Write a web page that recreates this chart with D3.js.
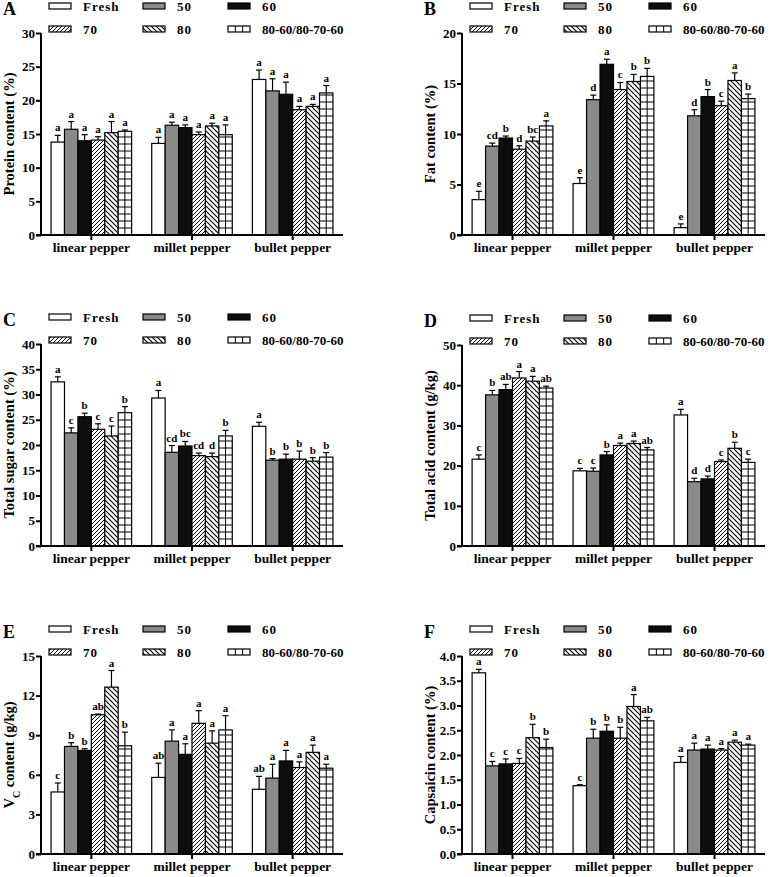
<!DOCTYPE html>
<html><head><meta charset="utf-8">
<script src="https://cdn.jsdelivr.net/npm/d3@7"></script>
<style>body{margin:0;background:#fff}svg{display:block}svg text{font-family:"Liberation Serif","DejaVu Serif",serif;font-weight:bold}</style>
</head><body>
<svg id="chart" width="770" height="877"></svg>
<script>
const categories = ["linear pepper","millet pepper","bullet pepper"];
const seriesNames = ["Fresh","50","60","70","80","80-60/80-70-60"];

const proteinMean = [[13.8,15.7,14.0,14.1,15.2,15.4],[13.6,16.3,15.95,14.9,16.2,14.9],[23.1,21.4,20.9,18.6,19.1,21.1]];
const proteinErr  = [[1.0,1.15,0.9,0.5,1.65,0.2],[0.9,0.45,0.4,0.4,0.4,1.45],[1.4,1.8,1.8,0.5,0.3,1.1]];
const proteinSig  = [["a","a","a","a","a","a"],["a","a","a","a","a","a"],["a","a","a","a","a","a"]];

const fatMean = [[3.5,8.8,9.6,8.5,9.3,10.8],[5.1,13.4,16.9,14.4,15.2,15.7],[0.73,11.8,13.7,12.8,15.3,13.5]];
const fatErr  = [[0.83,0.3,0.2,0.33,0.4,0.5],[0.57,0.45,0.5,0.7,0.7,0.8],[0.37,0.6,0.7,0.45,0.75,0.45]];
const fatSig  = [["e","cd","b","d","bc","a"],["e","d","a","c","b","b"],["e","d","b","c","a","b"]];

const sugarMean = [[32.5,22.4,25.6,23.1,21.8,26.4],[29.3,18.55,19.8,17.9,17.7,21.8],[23.7,17.0,17.2,17.2,16.8,17.6]];
const sugarErr  = [[1.0,1.0,0.7,1.1,1.95,1.2],[1.5,1.35,0.9,0.5,0.7,1.1],[0.8,0.3,1.0,1.6,0.7,0.9]];
const sugarSig  = [["a","c","b","c","c","b"],["a","cd","bc","cd","d","b"],["a","b","b","b","b","b"]];

const acidMean = [[21.6,37.6,38.9,41.8,41.0,39.3],[18.7,18.6,22.65,25.0,25.5,23.9],[32.6,16.0,16.7,21.0,24.3,20.8]];
const acidErr  = [[1.05,1.1,1.3,1.6,1.2,0.45],[0.6,0.8,0.85,0.6,0.6,0.6],[1.4,0.85,0.7,0.4,1.5,0.8]];
const acidSig  = [["c","b","ab","a","a","ab"],["c","c","b","a","a","ab"],["a","d","d","c","b","c"]];

const vcMean = [[4.7,8.15,7.85,10.55,12.64,8.2],[5.8,8.55,7.55,9.9,8.4,9.4],[4.9,5.75,7.05,6.55,7.7,6.5]];
const vcErr  = [[0.68,0.28,0.13,0.05,1.26,1.03],[1.08,0.85,0.8,0.96,0.93,1.08],[0.98,1.05,0.8,0.43,0.55,0.3]];
const vcSig  = [["c","b","b","ab","a","b"],["ab","a","a","a","a","a"],["ab","a","a","a","a","a"]];

const capMean = [[3.66,1.78,1.82,1.83,2.35,2.15],[1.38,2.34,2.48,2.34,2.98,2.69],[1.85,2.1,2.12,2.1,2.26,2.2]];
const capErr  = [[0.07,0.09,0.1,0.1,0.27,0.17],[0.02,0.18,0.13,0.22,0.24,0.07],[0.12,0.14,0.08,0.03,0.04,0.02]];
const capSig  = [["a","c","c","c","b","b"],["c","b","b","b","a","ab"],["a","a","a","a","a","a"]];

const panels = [
  {letter:"A", label:["Protein content (%)"], mean:proteinMean, err:proteinErr, sig:proteinSig, max:30, step:5, fmt:"d", ax:41, top:33, bottom:235, end:343},
  {letter:"B", label:["Fat content (%)"], mean:fatMean, err:fatErr, sig:fatSig, max:20, step:5, fmt:"d", ax:462, top:33, bottom:235, end:765},
  {letter:"C", label:["Total sugar content (%)"], mean:sugarMean, err:sugarErr, sig:sugarSig, max:40, step:5, fmt:"d", ax:41, top:344, bottom:546, end:343},
  {letter:"D", label:["Total acid content (g/kg)"], mean:acidMean, err:acidErr, sig:acidSig, max:50, step:10, fmt:"d", ax:462, top:345, bottom:546, end:765},
  {letter:"E", label:["V","C"," content (g/kg)"], mean:vcMean, err:vcErr, sig:vcSig, max:15, step:3, fmt:"d", ax:41, top:656, bottom:854, end:343},
  {letter:"F", label:["Capsaicin content (%)"], mean:capMean, err:capErr, sig:capSig, max:4, step:0.5, fmt:".1f", ax:462, top:656, bottom:854, end:765}
];

const svg = d3.select("#chart");
const defs = svg.append("defs");
const p70 = defs.append("pattern").attr("id","p70").attr("patternUnits","userSpaceOnUse").attr("width",4).attr("height",4);
p70.append("rect").attr("width",4).attr("height",4).attr("fill","#fff");
p70.append("path").attr("d","M-1,1 l2,-2 M0,4 l4,-4 M3,5 l2,-2").attr("stroke","#000").attr("stroke-width",1);
const p80 = defs.append("pattern").attr("id","p80").attr("patternUnits","userSpaceOnUse").attr("width",5).attr("height",5);
p80.append("rect").attr("width",5).attr("height",5).attr("fill","#fff");
p80.append("path").attr("d","M-1,-1 l2,2 M0,0 l5,5 M4,-1 l2,2 M-1,4 l2,2").attr("stroke","#000").attr("stroke-width",1.1);

const fills = ["#fff","#8a8a8a","#0d0d0d","url(#p70)","url(#p80)","#fff"];

panels.forEach(p => {
  const g = svg.append("g");
  const x0 = d3.scaleBand().domain(categories).range([p.ax, p.end]).paddingInner(0.2).paddingOuter(0.1);
  const x1 = d3.scaleBand().domain(seriesNames).range([0, x0.bandwidth()]);
  const y = d3.scaleLinear().domain([0, p.max]).range([p.bottom, p.top]);

  categories.forEach((c, ci) => {
    seriesNames.forEach((s, si) => {
      const v = p.mean[ci][si], e = p.err[ci][si];
      const bx = x0(c) + x1(s), bw = x1.bandwidth();
      g.append("rect").attr("x", bx).attr("y", y(v)).attr("width", bw).attr("height", y(0) - y(v))
        .attr("fill", fills[si]).attr("stroke", "#000").attr("stroke-width", 1.2);
      if (si === 5) {
        const cx = bx + bw / 2;
        g.append("line").attr("x1", cx).attr("x2", cx).attr("y1", y(v)).attr("y2", y(0)).attr("stroke","#000").attr("stroke-width",1);
        for (let yy = y(0) - 7; yy > y(v) + 1; yy -= 7) {
          g.append("line").attr("x1", bx).attr("x2", bx + bw).attr("y1", yy).attr("y2", yy).attr("stroke","#000").attr("stroke-width",1);
        }
      }
      const cx = bx + bw / 2;
      g.append("line").attr("x1", cx).attr("x2", cx).attr("y1", y(v)).attr("y2", y(v + e)).attr("stroke","#000").attr("stroke-width",1.2);
      g.append("line").attr("x1", cx - 3).attr("x2", cx + 3).attr("y1", y(v + e)).attr("y2", y(v + e)).attr("stroke","#000").attr("stroke-width",1.2);
      g.append("text").attr("x", cx).attr("y", y(v + e) - 4).attr("text-anchor","middle")
        .attr("font-size", 11).text(p.sig[ci][si]);
    });
  });

  const ticks = d3.range(0, p.max + p.step / 2, p.step);
  const ya = g.append("g").attr("transform", `translate(${p.ax},0)`)
    .call(d3.axisLeft(y).tickValues(ticks).tickFormat(d3.format(p.fmt)).tickSize(5).tickPadding(1));
  ya.select(".domain").attr("stroke-width", 2).attr("d", `M0,${p.top}V${p.bottom}`);
  ya.selectAll(".tick line").attr("stroke-width", 2);
  ya.selectAll("text").attr("font-size", 13).attr("fill","#000");

  const xa = g.append("g").attr("transform", `translate(0,${p.bottom})`)
    .call(d3.axisBottom(x0).tickSize(5).tickPadding(2));
  xa.select(".domain").attr("stroke-width", 2).attr("d", `M${p.ax - 5},0H${p.end}`);
  xa.selectAll(".tick line").attr("stroke-width", 2);
  xa.selectAll("text").attr("font-size", 13.5).attr("fill","#000");
  ya.attr("font-family", null);
  xa.attr("font-family", null);

  const ly = (p.top + p.bottom) / 2;
  const lt = g.append("text").attr("transform", `translate(${p.ax - 27},${ly}) rotate(-90)`)
    .attr("text-anchor","middle").attr("font-size", 14.5);
  if (p.label.length === 1) lt.text(p.label[0]);
  else {
    lt.append("tspan").text(p.label[0]);
    lt.append("tspan").attr("baseline-shift","sub").attr("font-size", 10).text(p.label[1]);
    lt.append("tspan").text(p.label[2]);
  }

  g.append("text").attr("x", p.ax - 38).attr("y", p.top - 18).attr("font-size", 18).text(p.letter);

  const sx = [8, 102, 187], tx = [42, 136, 221], rows = [-27, -4];
  seriesNames.forEach((s, si) => {
    const col = si % 3, row = Math.floor(si / 3);
    const lx = p.ax + sx[col], lyy = p.top + rows[row];
    g.append("rect").attr("x", lx).attr("y", lyy - 3).attr("width", 22).attr("height", 6)
      .attr("fill", fills[si]).attr("stroke","#000").attr("stroke-width",1.2);
    if (si === 5) {
      [1, 2].forEach(k => g.append("line").attr("x1", lx + k * 22 / 3).attr("x2", lx + k * 22 / 3)
        .attr("y1", lyy - 3).attr("y2", lyy + 3).attr("stroke","#000").attr("stroke-width",1));
    }
    g.append("text").attr("x", p.ax + tx[col]).attr("y", lyy + 4.5)
      .attr("font-size", 13).attr("letter-spacing", si === 5 ? 0 : 1).text(s);
  });
});
</script>
</body></html>
